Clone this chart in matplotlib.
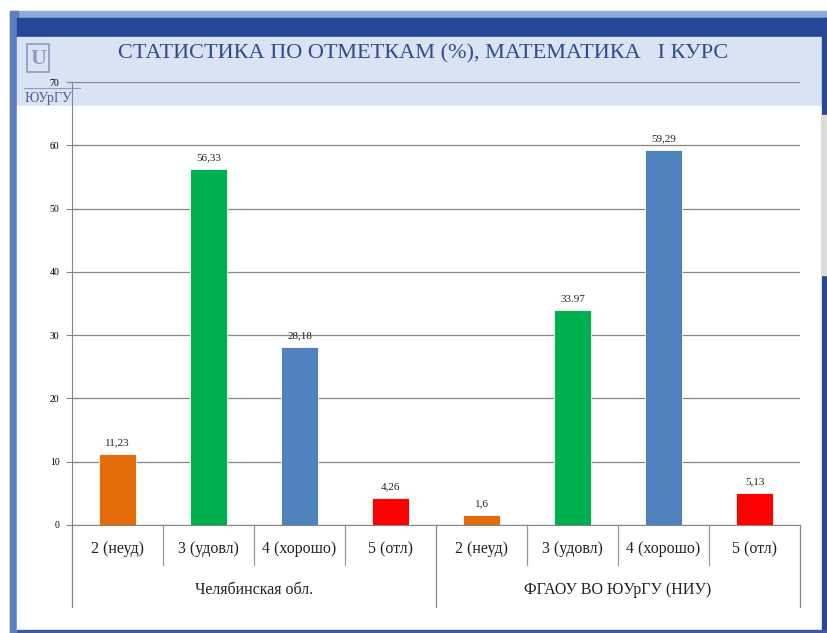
import matplotlib
matplotlib.use("Agg")
import matplotlib.pyplot as plt
from matplotlib.patches import Rectangle

# данные
groups = ["Челябинская обл.", "ФГАОУ ВО ЮУрГУ (НИУ)"]
grades = ["2 (неуд)", "3 (удовл)", "4 (хорошо)", "5 (отл)"]
chel_values = [11.23, 56.33, 28.18, 4.26]
susu_values = [1.6, 33.97, 59.29, 5.13]
chel_labels = ["11,23", "56,33", "28,18", "4,26"]
susu_labels = ["1,6", "33.97", "59,29", "5,13"]
grade_colors = ["#E46C0A", "#00B050", "#4F81BD", "#FF0000"]
y_ticks = [0, 10, 20, 30, 40, 50, 60, 70]

W, H = 827, 633
fig = plt.figure(figsize=(W / 100, H / 100), dpi=100)
SERIF = ["Liberation Serif", "DejaVu Serif"]

# фон слайда в пикселях
bg = fig.add_axes([0, 0, 1, 1])
bg.set_xlim(0, W)
bg.set_ylim(H, 0)
bg.axis("off")
bg.add_patch(Rectangle((10, 11), W - 10, H - 11, color="#8EA9DB", zorder=0))
bg.add_patch(Rectangle((10, 11), 8, H - 11, color="#5B7FC0", zorder=0))
bg.add_patch(Rectangle((17, 18), W - 17, 20, color="#264796", zorder=1))
bg.add_patch(Rectangle((17, 37), 805, 69, color="#DAE3F3", zorder=1))
bg.add_patch(Rectangle((17, 106), 805, 525, color="white", zorder=1))
bg.add_patch(Rectangle((822, 18), 5, H - 18, color="#264796", zorder=1))
bg.add_patch(Rectangle((822, 115), 5, 160, color="#DCDCDC", zorder=2))
bg.add_patch(Rectangle((17, 630), W - 17, 3, color="#3A5A9C", zorder=2))

bg.text(118, 58, "СТАТИСТИКА ПО ОТМЕТКАМ (%), МАТЕМАТИКА   I КУРС",
        fontsize=16, family=SERIF, color="#2E4C8A", va="baseline", zorder=3)

# логотип (упрощённо)
bg.add_patch(Rectangle((27, 44), 22, 28, fill=False, ec="#8A9CC0", lw=1.2, zorder=3))
bg.text(38, 59, "U", fontsize=16, family=SERIF, color="#8A9CC0", ha="center",
        va="center", fontweight="bold", zorder=3)
bg.plot([24, 80], [88, 88], color="#8A9CC0", lw=0.8, zorder=3)
bg.text(25, 102, "ЮУрГУ", fontsize=10, family=SERIF, color="#4A6090", zorder=3)

# диаграмма
x0, x1, yb, yt = 72, 800, 525, 82
ax = fig.add_axes([x0 / W, 1 - yb / H, (x1 - x0) / W, (yb - yt) / H])
ax.patch.set_alpha(0)

values = chel_values + susu_values
labels = chel_labels + susu_labels
colors = grade_colors * len(groups)
xs = list(range(len(values)))
bars = ax.bar(xs, values, width=0.4, color=colors, edgecolor="white",
              linewidth=0.6, zorder=3)
for b, lab in zip(bars, labels):
    ax.text(b.get_x() + b.get_width() / 2, b.get_height() + 1.0, lab,
            ha="center", va="bottom", fontsize=8, family=SERIF, color="#222222")

ax.set_xlim(-0.5, len(values) - 0.5)
ax.set_ylim(0, 70)
ax.set_yticks(y_ticks)
ax.set_yticklabels([str(t) for t in y_ticks], fontsize=7, family=SERIF)
ax.tick_params(axis="y", length=4, width=0.8, color="#868686", pad=5)
ax.set_xticks([])
ax.grid(axis="y", color="#868686", lw=0.9, zorder=0)
for s in ["top", "right"]:
    ax.spines[s].set_visible(False)
ax.spines["left"].set_color("#868686")
ax.spines["bottom"].set_color("#868686")

# подписи категорий и групп
tr = ax.get_xaxis_transform()
n = len(grades)
for i, g in enumerate(grades * len(groups)):
    ax.text(i, -0.055, g, transform=tr, ha="center", va="center",
            fontsize=11.5, family=SERIF, color="#222222")
for k in range(len(values) + 1):
    long = k % n == 0
    ax.plot([k - 0.5, k - 0.5], [0, -0.185 if long else -0.09], transform=tr,
            color="#9A9A9A" if not long else "#868686", lw=0.9, clip_on=False)
for j, grp in enumerate(groups):
    ax.text(j * n + (n - 1) / 2, -0.147, grp, transform=tr, ha="center",
            va="center", fontsize=11.5, family=SERIF, color="#222222")

fig.savefig("out.png", dpi=100)
